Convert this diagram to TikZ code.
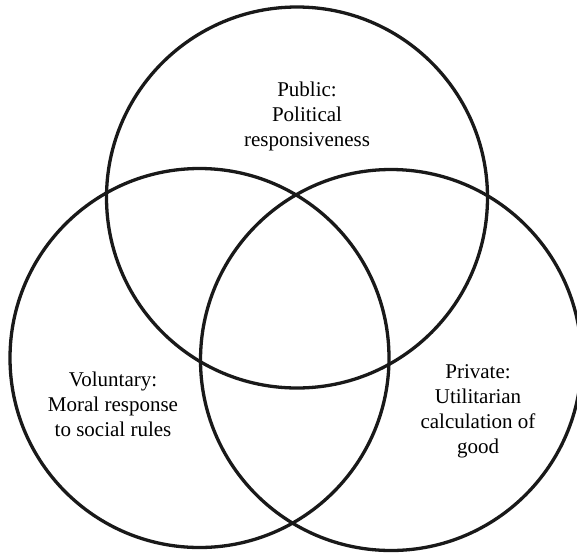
\documentclass[tikz,border=0pt]{standalone}
\usepackage{fontspec}
\setmainfont{Liberation Serif}
\tikzset{
	ring/.style={line width=3.3pt, black!90},
	lbl/.style={align=center, inner sep=0pt, anchor=north, font=\fontsize{21}{25}\selectfont}
}
\begin{document}
\begin{tikzpicture}[x=1pt,y=-1pt]
		\useasboundingbox (0,0) rectangle (577,555);
		\begin{scope}
			% three circles
			\coordinate (cpub) at (297,197.5);
			\coordinate (cvol) at (199.5,358);
			\coordinate (cpri) at (391,360);
			\draw[ring] (cpub) circle (190.5pt);
			\draw[ring] (cvol) circle (189.5pt);
			\draw[ring] (cpri) circle (190.5pt);
			% labels
			\node[lbl] (public) at (307,81.7) {Public:\\Political\\responsiveness};
			\node[lbl] (voluntary) at (113,371.7) {Voluntary:\\Moral response\\to social rules};
			\node[lbl] (private) at (478,364.7) {Private:\\Utilitarian\\calculation of\\good};
		\end{scope}
	\end{tikzpicture}
\end{document}
